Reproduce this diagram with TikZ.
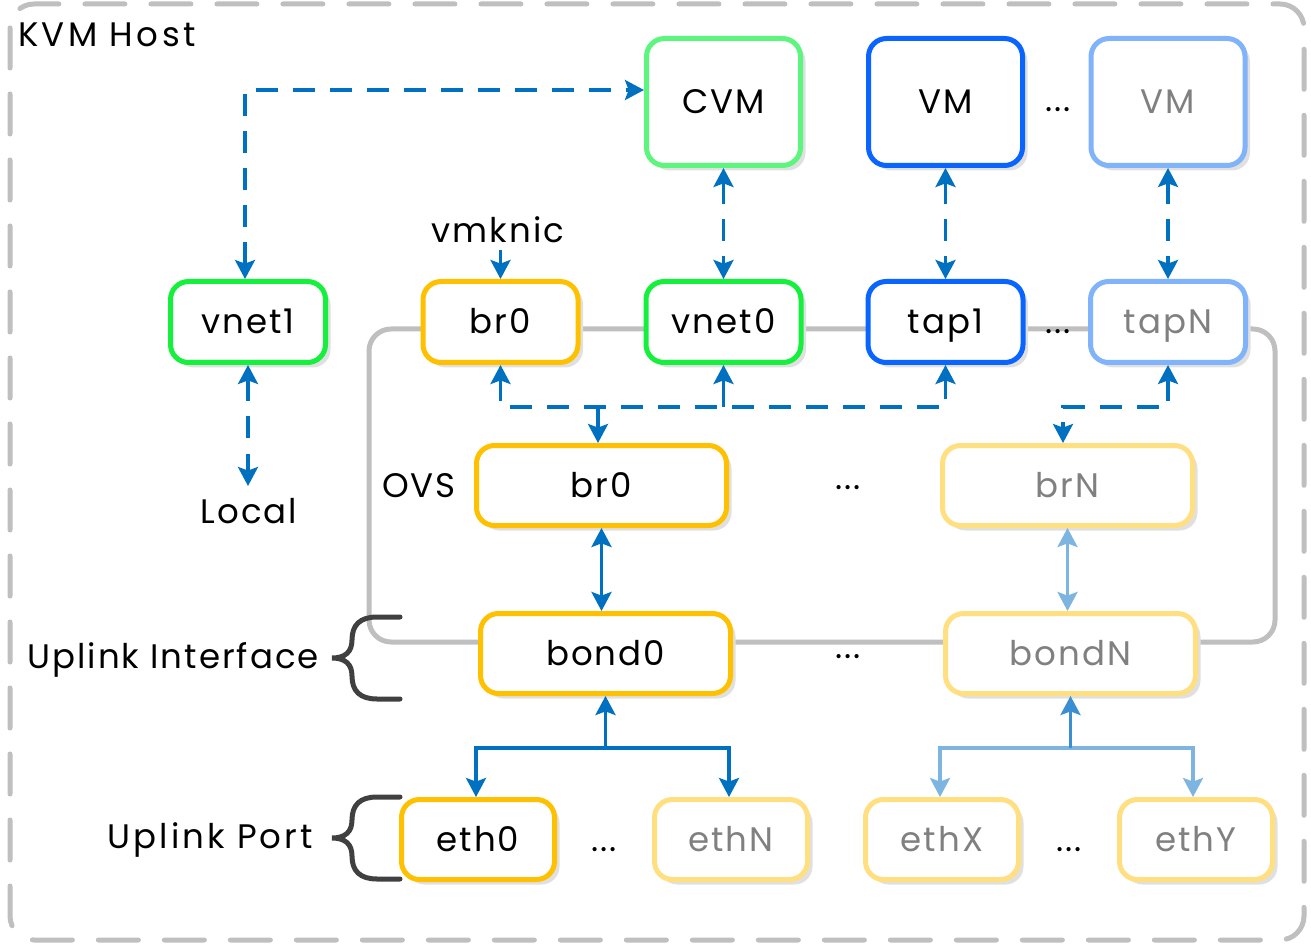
\documentclass[tikz,border=0pt]{standalone}
\usepackage{fontspec}
\setmainfont{Poppins}[LetterSpace=6]
\usetikzlibrary{arrows.meta,shadows}
\definecolor{cgreen}{HTML}{14F03C}
\definecolor{clgreen}{HTML}{5CF57E}
\definecolor{cblue}{HTML}{0A64FF}
\definecolor{clblue}{HTML}{80B3FA}
\definecolor{corange}{HTML}{FFC000}
\definecolor{clorange}{HTML}{FFDF80}
\definecolor{arrowblue}{HTML}{0070C0}
\definecolor{arrowlblue}{HTML}{7DB5E0}
\definecolor{arrowmblue}{HTML}{3A8ED2}
\definecolor{framegray}{HTML}{BFBFBF}
\definecolor{bracegray}{HTML}{404040}
\definecolor{txtgray}{HTML}{808080}
\newcommand\lblfont{\fontsize{17}{20}\selectfont}
\begin{document}
\begin{tikzpicture}[x=0.5pt,y=-0.5pt,
  every node/.style={font=\lblfont},
  >={Stealth[length=9.5pt,width=10pt,inset=1.8pt]},
  box/.style={draw, fill=white, rounded corners=9pt, line width=2.5pt, inner sep=0pt,
    text height=11.5pt, text depth=0pt,
    drop shadow={shadow xshift=2.5pt,shadow yshift=-2.5pt,fill=black!12,opacity=1}},
  tallbox/.style={box,minimum width=77pt,minimum height=63.5pt},
  smallbox/.style={box,minimum width=77.5pt,minimum height=40.5pt},
  widebox/.style={box,minimum width=125pt,minimum height=40pt},
  ethbox/.style={box,minimum width=76.5pt,minimum height=40pt},
  faint/.style={text=txtgray},
  link/.style={draw=arrowblue, line width=1.6pt},
  dlink/.style={link, dash pattern=on 11pt off 7.5pt},
  bracestyle/.style={draw=bracegray, line width=2.5pt, line cap=round},
  dotsnode/.style={anchor=base, inner sep=0pt}
]
\useasboundingbox (0,0) rectangle (1311,946);
% outer host frame
\draw[framegray, line width=2.5pt, dash pattern=on 20pt off 13pt, line cap=round, rounded corners=12pt]
  (10,4) rectangle (1304,940);
% OVS frame
\draw[framegray, line width=2.5pt, rounded corners=11pt] (369,329) rectangle (1275,642);

% nodes
\node[tallbox,draw=clgreen] (cvm) at (723.5,102) {CVM};
\node[tallbox,draw=cblue] (vm1) at (945.5,102) {VM};
\node[tallbox,draw=clblue,faint] (vm2) at (1168,102) {VM};
\node[smallbox,draw=cgreen] (vnet1) at (248,322) {vnet1};
\node[smallbox,draw=corange] (br0t) at (500.5,322) {br0};
\node[smallbox,draw=cgreen] (vnet0) at (723.5,322) {vnet0};
\node[smallbox,draw=cblue] (tap1) at (945.5,322) {tap1};
\node[smallbox,draw=clblue,faint] (tapN) at (1168,322) {tapN};
\node[widebox,draw=corange] (br0) at (601.5,485.5) {br0};
\node[widebox,draw=clorange,faint] (brN) at (1067.5,485.5) {brN};
\node[widebox,draw=corange] (bond0) at (605.5,653.5) {bond0};
\node[widebox,draw=clorange,faint] (bondN) at (1070.5,653.5) {bondN};
\node[ethbox,draw=corange] (eth0) at (478,839.5) {eth0};
\node[ethbox,draw=clorange,faint] (ethN) at (731,839.5) {ethN};
\node[ethbox,draw=clorange,faint] (ethX) at (942,839.5) {ethX};
\node[ethbox,draw=clorange,faint] (ethY) at (1196,839.5) {ethY};

% labels
\node[anchor=base west] (kvm) at (11,47) {\addfontfeature{LetterSpace=10}KVM Host};
\node[anchor=base] (vmknic) at (498,243) {vmknic};
\node[anchor=base] (local) at (249,523) {Local};
\node[anchor=base east] (ovs) at (463,497) {OVS};
\node[anchor=base east] (uif) at (326,668) {Uplink Interface};
\node[anchor=base east] (uport) at (320,848) {\addfontfeature{LetterSpace=9}Uplink Port};

% dots
\node[dotsnode] (d1) at (1058,112) {...};
\node[dotsnode] (d2) at (1058,334) {...};
\node[dotsnode] (d3) at (848,489) {...};
\node[dotsnode] (d4) at (848,658) {...};
\node[dotsnode] (d5) at (604,851) {...};
\node[dotsnode] (d6) at (1069,851) {...};

% braces
\draw[bracestyle] (400,617) -- (377,617) .. controls (360,617) and (352,625) .. (352,640)
  .. controls (352,652) and (345,658) .. (332,658) .. controls (345,658) and (352,664) .. (352,676)
  .. controls (352,691) and (360,699) .. (377,699) -- (400,699);
\draw[bracestyle] (400,797) -- (377,797) .. controls (360,797) and (352,805) .. (352,820)
  .. controls (352,832) and (345,838) .. (332,838) .. controls (345,838) and (352,844) .. (352,856)
  .. controls (352,871) and (360,879) .. (377,879) -- (400,879);

% connectors
\coordinate (localtop) at (248,486);
\coordinate (bus) at (0,407);
\draw[dlink,<->] ([xshift=-1.5pt]vnet1.north) |- ([yshift=6pt]cvm.west);
\draw[dlink,<->] (vnet1.south) -- (localtop);
\draw[link,->] (br0t.north |- vmknic.south) -- (br0t.north);
\draw[dlink,<->] (cvm.south) -- (vnet0.north);
\draw[dlink,<->] (vm1.south) -- (tap1.north);
\draw[dlink,<->] (vm2.south) -- (tapN.north);
\draw[dlink,<->] (br0t.south) -- (br0t.south |- bus) -- (tap1.south |- bus) -- (tap1.south);
\draw[link,->] (vnet0.south |- bus) -- (vnet0.south);
\draw[link,->] ([xshift=-1.75pt]br0.north |- bus) -- ([xshift=-1.75pt]br0.north);
\draw[dlink,<->] (tapN.south) -- (tapN.south |- bus) -- ([xshift=-2.25pt]brN.north |- bus) -- ([xshift=-2.25pt]brN.north);
\draw[link,<->] (br0.south) -- (br0.south |- bond0.north);
\draw[link,<->,draw=arrowlblue] (brN.south) -- (brN.south |- bondN.north);
\coordinate (j0) at (605.5,748);
\coordinate (j1) at (1070.5,748);
\draw[link,->] (j0) -| ([xshift=-1pt]eth0.north);
\draw[link,->] (j0) -| ([xshift=-1pt]ethN.north);
\draw[link,->] (j0) -- (bond0.south);
\draw[link,->,draw=arrowlblue] (j1) -| ([xshift=-1pt]ethX.north);
\draw[link,->,draw=arrowlblue] (j1) -| ([xshift=-1.5pt]ethY.north);
\draw[link,->,draw=arrowmblue] (j1) -- (bondN.south);
\end{tikzpicture}
\end{document}
